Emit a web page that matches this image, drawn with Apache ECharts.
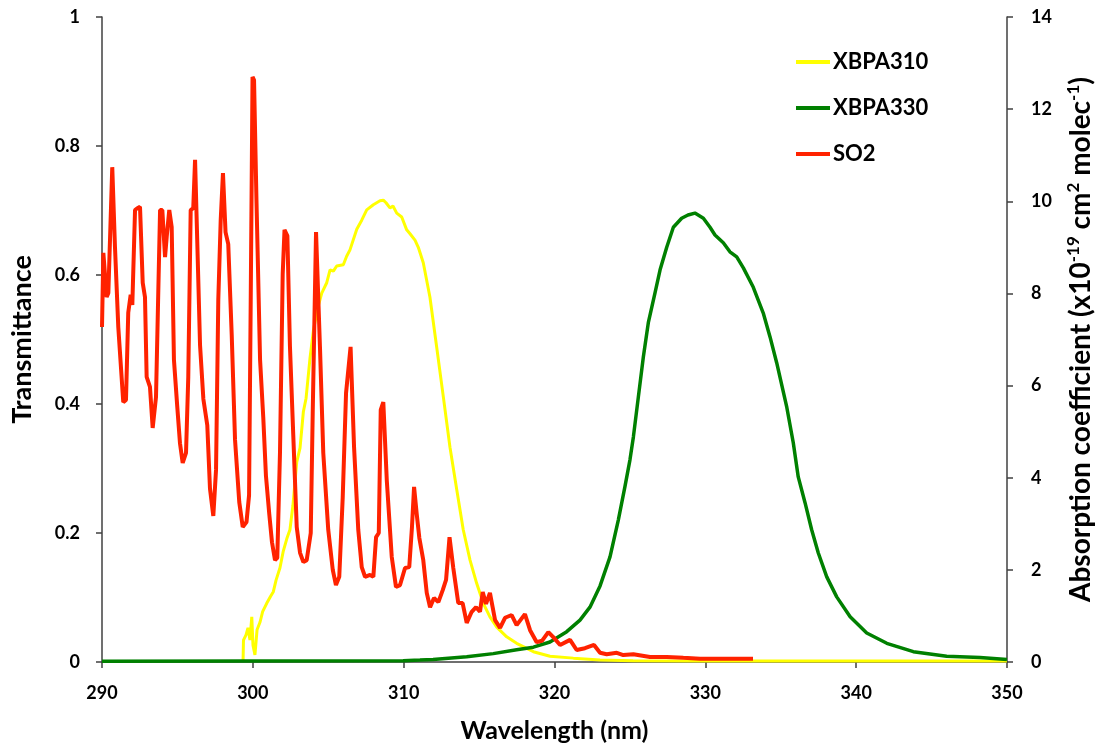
<!DOCTYPE html>
<html>
<head>
<meta charset="utf-8">
<script src="https://cdn.jsdelivr.net/npm/echarts@6/dist/echarts.min.js"></script>
<style>html,body{margin:0;padding:0;background:#fff;overflow:hidden}#c{width:1101px;height:749px}</style>
</head>
<body>
<div id="c"></div>
<script>
// ---- data ----
const xTicks = [290, 300, 310, 320, 330, 340, 350];
const leftTicks = [0, 0.2, 0.4, 0.6, 0.8, 1];
const rightTicks = [0, 2, 4, 6, 8, 10, 12, 14];
const seriesNames = ['XBPA310', 'XBPA330', 'SO2'];

const xbpa310Wl = [299.35,299.38,299.55,299.68,299.81,299.93,300.01,300.14,300.28,300.48,300.65,300.92,301.18,301.36,301.54,301.80,302.02,302.25,302.46,302.66,302.91,303.13,303.35,303.53,303.79,304.01,304.23,304.34,304.57,304.90,305.12,305.34,305.56,306.00,306.22,306.44,306.89,307.22,307.55,307.99,308.21,308.43,308.65,308.83,309.09,309.29,309.54,309.87,310.20,310.42,310.75,310.97,311.30,311.74,312.19,312.63,313.07,313.52,313.95,314.40,314.84,315.28,315.72,316.17,316.83,317.49,318.60,319.70,321.25,323.02,325.21,329.65,336.28,342.91,350.00];
const xbpa310T = [0,0.034,0.042,0.053,0.034,0.070,0.026,0.011,0.050,0.062,0.078,0.091,0.102,0.109,0.127,0.146,0.172,0.191,0.205,0.243,0.310,0.332,0.388,0.409,0.471,0.513,0.541,0.552,0.572,0.588,0.608,0.606,0.614,0.616,0.629,0.639,0.671,0.685,0.701,0.709,0.712,0.715,0.716,0.712,0.704,0.707,0.696,0.690,0.670,0.664,0.654,0.643,0.619,0.566,0.488,0.411,0.333,0.267,0.205,0.158,0.122,0.091,0.070,0.054,0.039,0.029,0.016,0.009,0.006,0.003,0.002,0.0015,0.0015,0.0015,0.0015];

const xbpa330Wl = [290.00,309.96,311.08,311.95,314.18,315.94,317.49,318.60,319.70,320.81,321.69,322.35,323.02,323.68,324.23,324.67,325.00,325.23,325.56,325.89,326.22,326.66,327.00,327.44,327.88,328.43,328.85,329.31,329.87,330.31,330.64,331.19,331.63,332.08,332.52,333.18,333.84,334.29,334.73,335.40,335.83,336.16,336.61,337.05,337.49,338.05,338.71,339.60,340.70,342.03,343.79,346.00,348.21,350.00];
const xbpa330T = [0.001,0.002,0.003,0.004,0.008,0.013,0.019,0.023,0.031,0.047,0.065,0.085,0.118,0.163,0.220,0.272,0.313,0.349,0.411,0.473,0.526,0.572,0.608,0.643,0.674,0.688,0.693,0.696,0.688,0.674,0.662,0.650,0.636,0.628,0.611,0.581,0.541,0.504,0.464,0.395,0.340,0.287,0.247,0.205,0.169,0.132,0.101,0.070,0.045,0.029,0.016,0.009,0.007,0.004];

const so2Wl = [290.00,290.09,290.31,290.42,290.68,290.86,291.08,291.41,291.59,291.74,291.90,292.01,292.19,292.34,292.52,292.70,292.85,292.96,293.18,293.36,293.58,293.73,293.85,294.00,294.18,294.29,294.46,294.62,294.77,294.99,295.17,295.35,295.57,295.72,295.88,296.05,296.17,296.28,296.50,296.72,296.98,297.16,297.38,297.56,297.71,297.87,298.02,298.19,298.37,298.60,298.82,299.10,299.33,299.58,299.75,299.86,299.98,300.08,300.24,300.48,300.69,300.87,301.09,301.27,301.47,301.62,301.80,301.98,302.10,302.29,302.46,302.68,302.91,303.13,303.35,303.57,303.84,303.97,304.19,304.45,304.67,305.00,305.30,305.51,305.73,305.96,306.18,306.48,306.71,306.99,307.22,307.44,307.77,307.99,308.17,308.35,308.48,308.65,308.88,309.21,309.49,309.76,310.09,310.37,310.55,310.69,310.86,311.04,311.30,311.53,311.75,312.01,312.30,312.59,312.81,313.04,313.29,313.62,313.91,314.18,314.51,314.80,315.06,315.24,315.46,315.72,316.06,316.39,316.72,317.16,317.49,318.04,318.38,318.82,319.17,319.59,319.92,320.37,321.03,321.47,322.02,322.62,323.02,323.46,324.13,324.56,325.23,326.33,327.44,328.54,329.65,331.86,333.16];
const so2Coeff = [7.27,8.88,7.92,8.01,10.74,9.01,7.27,5.64,5.69,7.58,7.97,7.75,9.81,9.85,9.88,8.23,7.92,6.19,5.97,5.08,5.75,8.01,9.81,9.81,8.79,9.23,9.81,9.44,6.56,5.54,4.75,4.32,4.54,6.19,9.81,9.85,10.90,10.90,6.88,5.71,5.14,3.76,3.17,4.17,7.86,9.59,10.61,9.33,9.07,7.10,4.82,3.47,2.93,3.04,3.62,7.86,12.70,12.63,10.03,6.56,5.32,4.04,3.21,2.60,2.21,2.26,4.54,8.42,9.38,9.25,6.86,4.93,2.93,2.37,2.17,2.21,2.80,5.40,9.33,6.84,4.54,2.87,2.00,1.67,1.85,3.58,5.84,6.84,4.67,2.87,2.06,1.85,1.89,1.85,2.71,2.80,5.47,5.64,3.95,2.28,1.63,1.67,2.04,2.06,2.93,3.80,3.23,2.69,2.21,1.50,1.19,1.39,1.30,1.56,1.78,2.71,2.04,1.28,1.28,0.85,1.09,1.19,1.09,1.52,1.26,1.50,0.91,0.74,0.96,1.02,0.80,1.04,0.69,0.43,0.46,0.65,0.54,0.37,0.48,0.26,0.30,0.37,0.20,0.17,0.20,0.15,0.17,0.11,0.11,0.09,0.07,0.07,0.07];

function pairs(xs, ys) { return xs.map((x, i) => [x, ys[i]]); }

const FONT = 'Lato';
const chart = echarts.init(document.getElementById('c'), null, { renderer: 'canvas', width: 1101, height: 749 });
const axisColor = '#404040';
const tickLabel = { color: '#000', fontFamily: FONT, fontWeight: 'bold', fontSize: 18 };

chart.setOption({
  animation: false,
  backgroundColor: '#fff',
  grid: { left: 102, right: 94, top: 17, bottom: 87, containLabel: false, outerBoundsMode: 'none' },
  legend: {
    orient: 'vertical', left: 791, top: 46, itemGap: 24,
    itemWidth: 34, itemHeight: 4, icon: 'rect',
    textStyle: { color: '#000', fontFamily: FONT, fontWeight: 'bold', fontSize: 22, lineHeight: 22, padding: [0, 0, 0, -2] },
    data: seriesNames
  },
  xAxis: {
    type: 'value', min: xTicks[0], max: xTicks[xTicks.length - 1], interval: 10,
    name: 'Wavelength (nm)', nameLocation: 'middle', nameGap: 56,
    nameTextStyle: { color: '#000', fontFamily: FONT, fontWeight: 'bold', fontSize: 25 },
    axisLine: { show: true, lineStyle: { color: axisColor, width: 1.5 } },
    axisTick: { show: true, inside: false, length: 6, lineStyle: { color: axisColor, width: 1.5 } },
    axisLabel: Object.assign({ margin: 22 }, tickLabel),
    splitLine: { show: false }
  },
  yAxis: [
    {
      type: 'value', min: leftTicks[0], max: leftTicks[leftTicks.length - 1], interval: 0.2, position: 'left',
      name: 'Transmittance', nameLocation: 'middle', nameGap: 66,
      nameTextStyle: { color: '#000', fontFamily: FONT, fontWeight: 'bold', fontSize: 27 },
      axisLine: { show: true, lineStyle: { color: axisColor, width: 1.5 } },
      axisTick: { show: true, inside: false, length: 6, lineStyle: { color: axisColor, width: 1.5 } },
      axisLabel: Object.assign({ margin: 22, formatter: v => String(+v.toFixed(1)) }, tickLabel),
      splitLine: { show: false }
    },
    {
      type: 'value', min: rightTicks[0], max: rightTicks[rightTicks.length - 1], interval: 2, position: 'right',
      name: '{n|Absorption coefficient (x10}{s|-19}{n| cm}{s|2}{n| molec}{s|-1}{n|)}',
      nameLocation: 'middle', nameGap: 58,
      nameTextStyle: {
        rich: {
          n: { color: '#000', fontFamily: FONT, fontWeight: 'bold', fontSize: 28, lineHeight: 32 },
          s: { color: '#000', fontFamily: FONT, fontWeight: 'bold', fontSize: 17, lineHeight: 18, verticalAlign: 'top' }
        }
      },
      axisLine: { show: true, lineStyle: { color: axisColor, width: 1.5 } },
      axisTick: { show: true, inside: false, length: 6, lineStyle: { color: axisColor, width: 1.5 } },
      axisLabel: Object.assign({ margin: 24 }, tickLabel),
      splitLine: { show: false }
    }
  ],
  series: [
    {
      name: seriesNames[0], type: 'line', yAxisIndex: 0, showSymbol: false, symbol: 'none',
      data: pairs(xbpa310Wl, xbpa310T),
      lineStyle: { color: '#ffff00', width: 3 }, itemStyle: { color: '#ffff00' }
    },
    {
      name: seriesNames[1], type: 'line', yAxisIndex: 0, showSymbol: false, symbol: 'none',
      data: pairs(xbpa330Wl, xbpa330T),
      lineStyle: { color: '#008000', width: 3.5 }, itemStyle: { color: '#008000' }
    },
    {
      name: seriesNames[2], type: 'line', yAxisIndex: 1, showSymbol: false, symbol: 'none',
      data: pairs(so2Wl, so2Coeff),
      lineStyle: { color: '#ff2200', width: 4 }, itemStyle: { color: '#ff2200' }
    }
  ]
});
</script>
</body>
</html>
